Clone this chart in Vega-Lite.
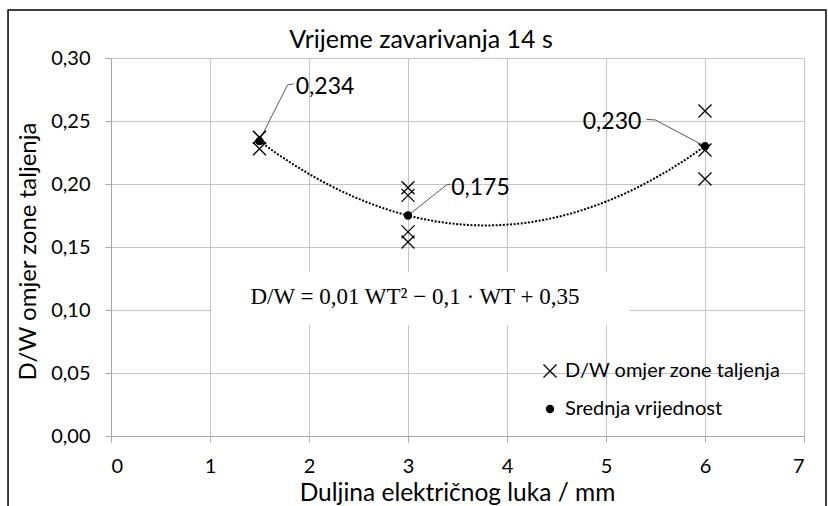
{
  "$schema": "https://vega.github.io/schema/vega-lite/v6.json",
  "width": 693,
  "height": 378,
  "autosize": {"type": "none"},
  "padding": {"left": 111, "top": 58, "right": 24, "bottom": 70},
  "background": "white",
  "config": {
    "locale": {"number": {"decimal": ",", "thousands": ".", "grouping": [3], "currency": ["", " €"]}},
    "font": "Lato",
    "view": {"stroke": null}
  },
  "datasets": {
    "points": [
      {"x": 1.5, "value": 0.237, "series": "D/W omjer zone taljenja"},
      {"x": 1.5, "value": 0.237, "series": "D/W omjer zone taljenja"},
      {"x": 1.5, "value": 0.228, "series": "D/W omjer zone taljenja"},
      {"x": 3, "value": 0.197, "series": "D/W omjer zone taljenja"},
      {"x": 3, "value": 0.191, "series": "D/W omjer zone taljenja"},
      {"x": 3, "value": 0.162, "series": "D/W omjer zone taljenja"},
      {"x": 3, "value": 0.154, "series": "D/W omjer zone taljenja"},
      {"x": 6, "value": 0.258, "series": "D/W omjer zone taljenja"},
      {"x": 6, "value": 0.227, "series": "D/W omjer zone taljenja"},
      {"x": 6, "value": 0.204, "series": "D/W omjer zone taljenja"},
      {"x": 1.5, "value": 0.234, "series": "Srednja vrijednost"},
      {"x": 3, "value": 0.175, "series": "Srednja vrijednost"},
      {"x": 6, "value": 0.230, "series": "Srednja vrijednost"}
    ],
    "leaders": [
      {"g": "a", "o": 1, "x": 1.494, "value": 0.2336},
      {"g": "a", "o": 2, "x": 1.783, "value": 0.2786},
      {"g": "a", "o": 3, "x": 1.844, "value": 0.2794},
      {"g": "b", "o": 1, "x": 3.0, "value": 0.175},
      {"g": "b", "o": 2, "x": 3.388, "value": 0.1992},
      {"g": "b", "o": 3, "x": 3.431, "value": 0.1998},
      {"g": "c", "o": 1, "x": 5.408, "value": 0.2513},
      {"g": "c", "o": 2, "x": 5.499, "value": 0.2508},
      {"g": "c", "o": 3, "x": 5.993, "value": 0.2302}
    ],
    "labels": [
      {"x": 2.162, "value": 0.277, "mean": 0.234},
      {"x": 3.732, "value": 0.1968, "mean": 0.175},
      {"x": 5.061, "value": 0.2492, "mean": 0.230}
    ]
  },
  "layer": [
    {
      "data": {"values": [{}]},
      "mark": {"type": "rect", "fill": null, "stroke": "#000000", "strokeWidth": 1.5},
      "encoding": {
        "x": {"datum": -1.04, "type": "quantitative", "scale": {"domain": [0, 7], "nice": false}},
        "x2": {"datum": 7.222},
        "y": {"datum": 0.3381, "type": "quantitative", "scale": {"domain": [0, 0.3], "nice": false}},
        "y2": {"datum": -0.2}
      }
    },
    {
      "data": {"values": [{}]},
      "mark": {"type": "rect", "fill": "#ffffff", "stroke": null},
      "encoding": {
        "x": {"datum": 1.015, "type": "quantitative", "scale": {"domain": [0, 7], "nice": false}},
        "x2": {"datum": 5.24},
        "y": {"datum": 0.130, "type": "quantitative", "scale": {"domain": [0, 0.3], "nice": false}},
        "y2": {"datum": 0.088}
      }
    },
    {
      "data": {"name": "points"},
      "transform": [
        {"filter": "datum.series === 'Srednja vrijednost'"},
        {"regression": "value", "on": "x", "method": "poly", "order": 2, "extent": [1.5, 6]}
      ],
      "mark": {"type": "line", "color": "#000000", "strokeWidth": 2, "strokeDash": [2, 1.6]},
      "encoding": {
        "x": {"field": "x", "type": "quantitative", "scale": {"domain": [0, 7], "nice": false}},
        "y": {"field": "value", "type": "quantitative", "scale": {"domain": [0, 0.3], "nice": false}}
      }
    },
    {
      "data": {"name": "leaders"},
      "mark": {"type": "line", "color": "#595959", "strokeWidth": 1},
      "encoding": {
        "x": {"field": "x", "type": "quantitative", "scale": {"domain": [0, 7], "nice": false}},
        "y": {"field": "value", "type": "quantitative", "scale": {"domain": [0, 0.3], "nice": false}},
        "detail": {"field": "g"},
        "order": {"field": "o"}
      }
    },
    {
      "data": {"name": "points"},
      "mark": {"type": "point", "filled": true, "stroke": "#000000", "strokeWidth": 1.3, "opacity": 1},
      "encoding": {
        "x": {
          "field": "x", "type": "quantitative",
          "scale": {"domain": [0, 7], "nice": false},
          "axis": {
            "title": "Duljina električnog luka / mm",
            "values": [0, 1, 2, 3, 4, 5, 6, 7],
            "format": "d",
            "grid": true,
            "gridColor": "#c4c4c4",
            "gridWidth": 1,
            "domainColor": "#a6a6a6",
            "tickColor": "#a6a6a6",
            "tickSize": 6,
            "labelFont": "Lato",
            "labelFontSize": 20,
            "labelColor": "#000000",
            "labelPadding": 14,
            "titleFont": "Lato",
            "titleFontSize": 24.5,
            "titleFontWeight": "normal",
            "titleColor": "#000000",
            "titleX": 346,
            "titleY": 64,
            "titleBaseline": "alphabetic",
            "titleAlign": "center"
          }
        },
        "y": {
          "field": "value", "type": "quantitative",
          "scale": {"domain": [0, 0.3], "nice": false},
          "axis": {
            "title": "D/W omjer zone taljenja",
            "values": [0, 0.05, 0.1, 0.15, 0.2, 0.25, 0.3],
            "format": ".2f",
            "grid": true,
            "gridColor": "#c4c4c4",
            "gridWidth": 1,
            "domainColor": "#a6a6a6",
            "tickColor": "#a6a6a6",
            "tickSize": 6,
            "labelFont": "Lato",
            "labelFontSize": 20,
            "labelColor": "#000000",
            "labelPadding": 15,
            "titleFont": "Lato",
            "titleFontSize": 24,
            "titleFontWeight": "normal",
            "titleColor": "#000000",
            "titleX": -83,
            "titleY": 193,
            "titleAngle": -90,
            "titleBaseline": "middle",
            "titleAlign": "center"
          }
        },
        "shape": {
          "field": "series", "type": "nominal",
          "scale": {"domain": ["D/W omjer zone taljenja", "Srednja vrijednost"], "range": ["M-1,-1L1,1M-1,1L1,-1", "circle"]},
          "legend": {
            "title": null,
            "orient": "none",
            "legendX": 429,
            "legendY": 303,
            "padding": 0,
            "labelFont": "Lato",
            "labelFontSize": 20,
            "labelColor": "#000000",
            "labelLimit": 400,
            "rowPadding": 18,
            "labelOffset": 5,
            "symbolStrokeWidth": 1.3,
            "symbolStrokeColor": "#000000",
            "symbolFillColor": "#000000"
          }
        },
        "size": {
          "field": "series", "type": "nominal",
          "scale": {"domain": ["D/W omjer zone taljenja", "Srednja vrijednost"], "range": [169, 50]}
        },
        "color": {"value": "#000000"}
      }
    },
    {
      "data": {"name": "labels"},
      "mark": {"type": "text", "font": "Lato", "fontSize": 23, "color": "#000000", "align": "center", "baseline": "middle"},
      "encoding": {
        "x": {"field": "x", "type": "quantitative", "scale": {"domain": [0, 7], "nice": false}},
        "y": {"field": "value", "type": "quantitative", "scale": {"domain": [0, 0.3], "nice": false}},
        "text": {"field": "mean", "type": "quantitative", "format": ".3f"}
      }
    },
    {
      "data": {"values": [{}]},
      "mark": {"type": "text", "font": "Liberation Serif", "fontSize": 23, "color": "#000000", "align": "center", "baseline": "middle"},
      "encoding": {
        "x": {"datum": 3.07, "type": "quantitative", "scale": {"domain": [0, 7], "nice": false}},
        "y": {"datum": 0.110, "type": "quantitative", "scale": {"domain": [0, 0.3], "nice": false}},
        "text": {"value": "D/W = 0,01 WT² − 0,1 · WT + 0,35"}
      }
    },
    {
      "data": {"values": [{}]},
      "mark": {"type": "text", "font": "Lato", "fontSize": 25, "color": "#000000", "align": "center", "baseline": "alphabetic"},
      "encoding": {
        "x": {"datum": 3.131, "type": "quantitative", "scale": {"domain": [0, 7], "nice": false}},
        "y": {"datum": 0.3083, "type": "quantitative", "scale": {"domain": [0, 0.3], "nice": false}},
        "text": {"value": "Vrijeme zavarivanja 14 s"}
      }
    }
  ]
}
